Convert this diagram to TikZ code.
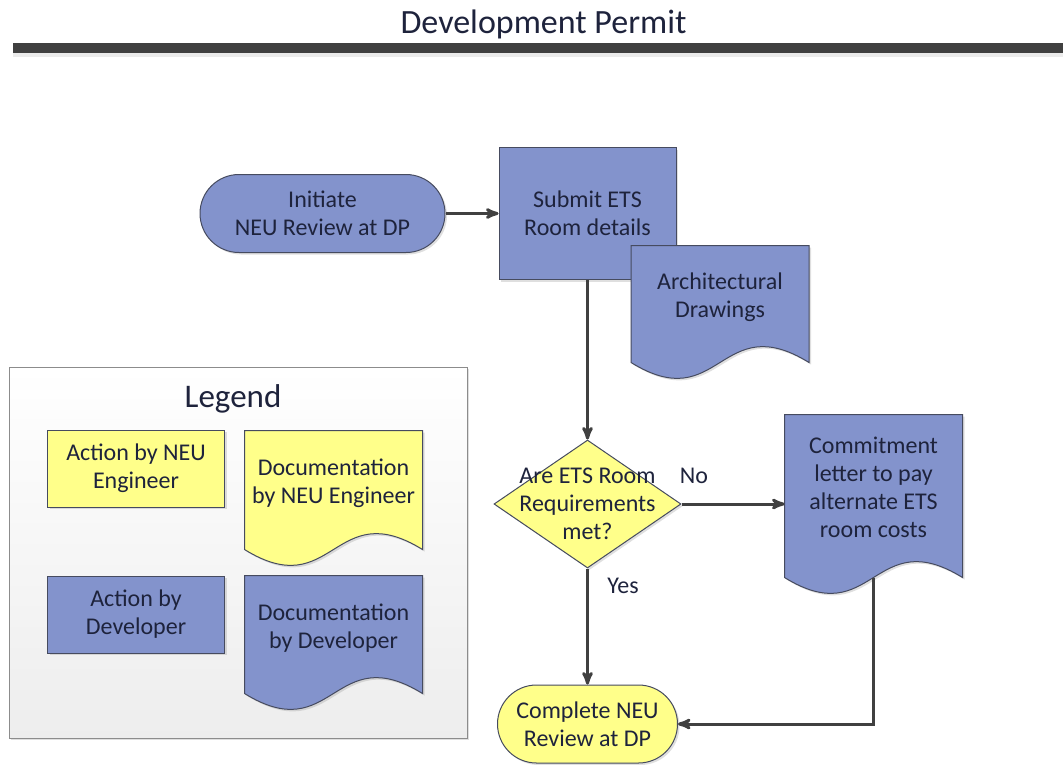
\documentclass[tikz,border=0pt]{standalone}
\usepackage{fontspec}
\setmainfont{Carlito}
\usepackage{tikz}
\usetikzlibrary{arrows, shapes.geometric, shadows}

\definecolor{devblue}{RGB}{131,147,204}
\definecolor{neuyellow}{RGB}{255,255,138}
\definecolor{shapeline}{RGB}{70,75,95}
\definecolor{flowline}{RGB}{64,64,64}
\definecolor{textcol}{RGB}{30,35,60}
\definecolor{barcol}{RGB}{64,64,64}

% document shape: rectangle with a wavy bottom edge
\makeatletter
\newdimen\docwave@up
\newdimen\docwave@down
\pgfdeclareshape{document}{%
  \inheritsavedanchors[from=rectangle]%
  \inheritanchorborder[from=rectangle]%
  \inheritanchor[from=rectangle]{center}%
  \inheritanchor[from=rectangle]{north}%
  \inheritanchor[from=rectangle]{south}%
  \inheritanchor[from=rectangle]{east}%
  \inheritanchor[from=rectangle]{west}%
  \inheritanchor[from=rectangle]{north east}%
  \inheritanchor[from=rectangle]{north west}%
  \inheritanchor[from=rectangle]{south east}%
  \inheritanchor[from=rectangle]{south west}%
  \backgroundpath{%
    \southwest \pgf@xa=\pgf@x \pgf@ya=\pgf@y
    \northeast \pgf@xb=\pgf@x \pgf@yb=\pgf@y
    \pgf@xc=.5\pgf@xa \advance\pgf@xc by .5\pgf@xb
    \docwave@up=\pgf@ya \advance\docwave@up by 55pt
    \docwave@down=\pgf@ya \advance\docwave@down by -55pt
    \pgfpathmoveto{\pgfqpoint{\pgf@xa}{\pgf@yb}}%
    \pgfpathlineto{\pgfqpoint{\pgf@xb}{\pgf@yb}}%
    \pgfpathlineto{\pgfqpoint{\pgf@xb}{\pgf@ya}}%
    \pgfpathcurveto{\pgfqpoint{\pgf@xc}{\docwave@up}}{\pgfqpoint{\pgf@xc}{\docwave@down}}{\pgfqpoint{\pgf@xa}{\pgf@ya}}%
    \pgfpathclose
  }%
}
\makeatother

\begin{document}
\begin{tikzpicture}[->,>=stealth',semithick,x=1pt,y=1pt,
        every node/.style={text=textcol},font=\fontsize{24}{28}\selectfont]
    \tikzstyle{shade}=[drop shadow={shadow xshift=2pt,shadow yshift=-2pt,opacity=0.25}]
    \tikzstyle{action}=[rectangle,draw=shapeline,line width=1pt,align=center,inner sep=0pt,
        minimum width=177pt,minimum height=77pt,shade]
    \tikzstyle{terminal}=[action,rounded corners=39pt,minimum height=78pt]
    \tikzstyle{doc}=[document,draw=shapeline,line width=1pt,align=center,inner sep=0pt,
        minimum width=177pt,text depth=17pt,shade]
    \tikzstyle{decision}=[diamond,draw=shapeline,line width=1pt,inner sep=0pt,
        minimum width=187pt,minimum height=128pt,shade]
    \tikzstyle{flow}=[flowline,line width=3pt]

    \useasboundingbox (0,0) rectangle (1063,-764);

    % title and bar
    \node[anchor=base,font=\fontsize{34}{40}\selectfont] (title) at (543.5,-33) {Development Permit};
    \fill[-,barcol] (13,-43) rectangle (1063,-53);
    \fill[-,black!8] (13,-53) rectangle (1063,-57);

    % legend
    \draw[-,draw=black!45,line width=1pt,top color=white,bottom color=black!7,shade] (9,-367) rectangle (467,-738);
    \node[font=\fontsize{33}{40}\selectfont] (legend) at (233,-399) {Legend};
    \node[action,fill=neuyellow]                    (neuaction) at (136,-468.5) {Action by NEU\\Engineer};
    \node[doc,fill=neuyellow,minimum height=118pt]  (neudoc)    at (333.5,-490) {Documentation\\by NEU Engineer};
    \node[action,fill=devblue]                      (devaction) at (136,-614.5) {Action by\\Developer};
    \node[doc,fill=devblue,minimum height=117pt]    (devdoc)    at (333.5,-634.5) {Documentation\\by Developer};

    % flow
    \node[terminal,fill=devblue,minimum width=245pt]    (initiate) at (322.5,-213.5) {Initiate\\NEU Review at DP};
    \node[action,fill=devblue,minimum height=132pt]     (submit)   at (587.5,-213.5) {Submit ETS\\Room details};
    \node[doc,fill=devblue,minimum height=116pt]        (arch)     at (720,-304) {Architectural\\Drawings};
    \node[decision,fill=neuyellow,
          label={[align=center]center:Are ETS Room\\Requirements\\met?}] (check) at (587.5,-504) {};
    \node[doc,fill=devblue,minimum height=162pt]        (commit)   at (873.5,-496) {Commitment\\letter to pay\\alternate ETS\\room costs};
    \node[terminal,fill=neuyellow,minimum width=180pt]  (complete) at (587.5,-724) {Complete NEU\\Review at DP};

    \path[flow]
    (initiate) edge                                     (submit)
    (submit) edge                                       (check)
    (check) edge node[pos=0.15,right=15pt]{Yes}         (complete)
    (check.east) edge node[pos=0.12,above=16pt]{No}     (check.east -| commit.west);
    \draw[flow] (commit.south) |- (complete.east);
\end{tikzpicture}
\end{document}
